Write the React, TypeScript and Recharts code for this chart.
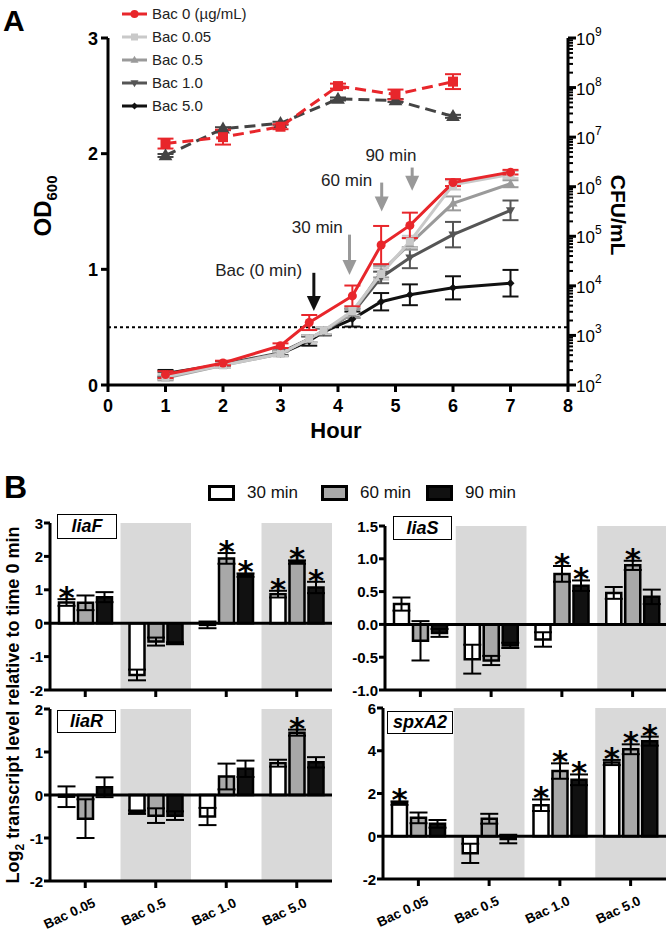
import React from "react";
import {
  LineChart,
  Line,
  XAxis,
  YAxis,
  ErrorBar,
  ReferenceLine,
  ReferenceDot,
  BarChart,
  Bar,
  ReferenceArea,
  LabelList,
} from "recharts";

const FONT = '"Liberation Sans", Arial, Helvetica, sans-serif';

// ---- Panel A: growth (OD600) ----
const hours = [1, 2, 3, 3.5, 3.75, 4.25, 4.75, 5.25, 6, 7];
const bac0Hours = [1, 2, 3, 3.5, 4.25, 4.75, 5.25, 6, 7];
const odBac0 = [0.09, 0.19, 0.34, 0.54, 0.77, 1.21, 1.38, 1.75, 1.84];
const odBac0Err = [0.03, 0.02, 0.02, 0.065, 0.09, 0.165, 0.11, 0.03, 0.02];
const odBac005 = [0.07, 0.17, 0.27, 0.4, 0.47, 0.64, 0.96, 1.24, 1.73, 1.82];
const odBac005Err = [0.02, 0.02, 0.02, 0.03, 0.03, 0.04, 0.05, 0.05, 0.04, 0.03];
const odBac05 = [0.06, 0.17, 0.27, 0.4, 0.47, 0.62, 0.98, 1.22, 1.57, 1.74];
const odBac05Err = [0.02, 0.02, 0.02, 0.03, 0.03, 0.04, 0.05, 0.05, 0.06, 0.03];
const odBac10 = [0.08, 0.18, 0.28, 0.4, 0.46, 0.62, 0.93, 1.1, 1.3, 1.51];
const odBac10Err = [0.03, 0.02, 0.02, 0.03, 0.03, 0.04, 0.05, 0.09, 0.11, 0.085];
const odBac50 = [0.1, 0.18, 0.27, 0.38, 0.46, 0.57, 0.72, 0.78, 0.84, 0.88];
const odBac50Err = [0.03, 0.02, 0.02, 0.04, 0.03, 0.065, 0.075, 0.09, 0.1, 0.115];

// CFU/mL, stored as log10
const cfuHours = [1, 2, 3, 4, 5, 6];
const cfuBac0 = [6.87, 7.0, 7.21, 8.03, 7.86, 8.12];
const cfuBac0Err = [0.1, 0.15, 0.05, 0.05, 0.1, 0.15];
const cfuTreated = [6.63, 7.17, 7.28, 7.77, 7.74, 7.42];
const cfuTreatedErr = [0.03, 0.03, 0.03, 0.03, 0.03, 0.03];
const cfuExponents = [2, 3, 4, 5, 6, 7, 8, 9];

const hourTicks = [0, 1, 2, 3, 4, 5, 6, 7, 8];
const odTicks = [0, 1, 2, 3];

const arrows = [
  { label: "Bac (0 min)", hour: 3.58, from: 0.97, to: 0.64, color: "#111", labelHour: 2.62, labelOd: 0.99 },
  { label: "30 min", hour: 4.2, from: 1.3, to: 0.95, color: "#999", labelHour: 3.64, labelOd: 1.37 },
  { label: "60 min", hour: 4.76, from: 1.75, to: 1.5, color: "#999", labelHour: 4.15, labelOd: 1.77 },
  { label: "90 min", hour: 5.29, from: 1.88, to: 1.68, color: "#999", labelHour: 4.92, labelOd: 1.99 },
];

const odData = hours.map((h, i) => ({
  hour: h,
  bac005: odBac005[i],
  bac005Err: odBac005Err[i],
  bac05: odBac05[i],
  bac05Err: odBac05Err[i],
  bac10: odBac10[i],
  bac10Err: odBac10Err[i],
  bac50: odBac50[i],
  bac50Err: odBac50Err[i],
}));
const bac0Data = bac0Hours.map((h, i) => ({ hour: h, bac0: odBac0[i], bac0Err: odBac0Err[i] }));
const cfuData = cfuHours.map((h, i) => ({
  hour: h,
  cfu0: cfuBac0[i],
  cfu0Err: cfuBac0Err[i],
  cfuT: cfuTreated[i],
  cfuTErr: cfuTreatedErr[i],
}));
const cfuTicks = cfuExponents.flatMap((e) =>
  e === 9 ? [9] : [1, 2, 3, 4, 5, 6, 7, 8, 9].map((k) => e + Math.log10(k))
);

// ---- Panel B: transcript levels ----
const groups = ["Bac 0.05", "Bac 0.5", "Bac 1.0", "Bac 5.0"];

const liaF30 = [0.62, -1.55, -0.05, 0.87];
const liaF60 = [0.61, -0.55, 1.94, 1.83];
const liaF90 = [0.78, -0.6, 1.44, 1.07];
const liaF30Err = [0.1, 0.16, 0.1, 0.1];
const liaF60Err = [0.22, 0.12, 0.16, 0.05];
const liaF90Err = [0.15, 0.03, 0.05, 0.17];
const liaF30Sig = [true, false, false, true];
const liaF60Sig = [false, false, true, true];
const liaF90Sig = [false, false, true, true];

const liaS30 = [0.31, -0.53, -0.23, 0.48];
const liaS60 = [-0.25, -0.55, 0.77, 0.9];
const liaS90 = [-0.13, -0.32, 0.59, 0.42];
const liaS30Err = [0.1, 0.22, 0.11, 0.09];
const liaS60Err = [0.3, 0.07, 0.12, 0.07];
const liaS90Err = [0.06, 0.04, 0.08, 0.11];
const liaS30Sig = [false, false, false, false];
const liaS60Sig = [false, false, true, true];
const liaS90Sig = [false, false, true, false];

const liaR30 = [-0.04, -0.4, -0.5, 0.74];
const liaR60 = [-0.55, -0.48, 0.43, 1.45];
const liaR90 = [0.18, -0.48, 0.61, 0.76];
const liaR30Err = [0.24, 0.04, 0.2, 0.08];
const liaR60Err = [0.45, 0.17, 0.3, 0.07];
const liaR90Err = [0.23, 0.1, 0.19, 0.12];
const liaR30Sig = [false, false, false, false];
const liaR60Sig = [false, false, false, true];
const liaR90Sig = [false, false, false, false];

const spx30 = [1.55, -0.8, 1.45, 3.45];
const spx60 = [0.86, 0.82, 3.05, 4.07];
const spx90 = [0.58, -0.13, 2.64, 4.45];
const spx30Err = [0.08, 0.45, 0.27, 0.12];
const spx60Err = [0.25, 0.23, 0.36, 0.23];
const spx90Err = [0.18, 0.2, 0.25, 0.21];
const spx30Sig = [true, false, true, true];
const spx60Sig = [false, false, true, true];
const spx90Sig = [false, false, true, true];

function rows(m30, m60, m90, e30, e60, e90, s30, s60, s90) {
  return groups.map((g, i) => ({
    group: g,
    m30: m30[i], m60: m60[i], m90: m90[i],
    e30: e30[i], e60: e60[i], e90: e90[i],
    s30: s30[i], s60: s60[i], s90: s90[i],
  }));
}

const liaFData = rows(liaF30, liaF60, liaF90, liaF30Err, liaF60Err, liaF90Err, liaF30Sig, liaF60Sig, liaF90Sig);
const liaSData = rows(liaS30, liaS60, liaS90, liaS30Err, liaS60Err, liaS90Err, liaS30Sig, liaS60Sig, liaS90Sig);
const liaRData = rows(liaR30, liaR60, liaR90, liaR30Err, liaR60Err, liaR90Err, liaR30Sig, liaR60Sig, liaR90Sig);
const spxData = rows(spx30, spx60, spx90, spx30Err, spx60Err, spx90Err, spx30Sig, spx60Sig, spx90Sig);

// ---- markers ----
function marker(kind: string, color: string, s: number, cx: number, cy: number, key?: any) {
  if (cx == null || cy == null) return <g key={key} />;
  if (kind === "circle") return <circle key={key} cx={cx} cy={cy} r={s} fill={color} />;
  if (kind === "square")
    return <rect key={key} x={cx - s} y={cy - s} width={2 * s} height={2 * s} fill={color} />;
  if (kind === "up")
    return (
      <polygon key={key} fill={color}
        points={`${cx},${cy - s * 1.2} ${cx - s * 1.15},${cy + s * 0.8} ${cx + s * 1.15},${cy + s * 0.8}`} />
    );
  if (kind === "down")
    return (
      <polygon key={key} fill={color}
        points={`${cx},${cy + s * 1.2} ${cx - s * 1.15},${cy - s * 0.8} ${cx + s * 1.15},${cy - s * 0.8}`} />
    );
  return (
    <polygon key={key} fill={color}
      points={`${cx},${cy - s} ${cx + s},${cy} ${cx},${cy + s} ${cx - s},${cy}`} />
  );
}
const dotFn = (kind: string, color: string, s: number) => (p: any) => marker(kind, color, s, p.cx, p.cy, p.index);

const legendA = [
  { name: "Bac 0 (µg/mL)", color: "#e8262b", kind: "circle", s: 4 },
  { name: "Bac 0.05", color: "#c9c9c9", kind: "square", s: 3.5 },
  { name: "Bac 0.5", color: "#9a9a9a", kind: "up", s: 3.5 },
  { name: "Bac 1.0", color: "#555", kind: "down", s: 3.5 },
  { name: "Bac 5.0", color: "#111", kind: "diamond", s: 3.5 },
];

// ---- custom ticks (draw their own tick marks) ----
const HourTick = (props: any) => {
  const { x, y, payload } = props;
  return (
    <g>
      <line x1={x} x2={x} y1={y} y2={y + 7} stroke="#000" strokeWidth={3} />
      <text x={x} y={y + 27} textAnchor="middle" fontSize={18} fontWeight="bold" fontFamily={FONT} fill="#000">
        {payload.value}
      </text>
    </g>
  );
};

const OdTick = (props: any) => {
  const { x, y, payload } = props;
  return (
    <g>
      <line x1={x - 7} x2={x} y1={y} y2={y} stroke="#000" strokeWidth={3} />
      <text x={x - 10} y={y + 6.5} textAnchor="end" fontSize={18} fontWeight="bold" fontFamily={FONT} fill="#000">
        {payload.value}
      </text>
    </g>
  );
};

const CfuTick = (props: any) => {
  const { x, y, payload } = props;
  const v = payload.value;
  const major = Math.abs(v - Math.round(v)) < 1e-6;
  return (
    <g>
      <line x1={x} x2={x + (major ? 8 : 5)} y1={y} y2={y} stroke="#000" strokeWidth={major ? 3 : 2} />
      {major && (
        <text x={x + 8} y={y + 7} fontSize={17} fontFamily={FONT} fill="#000">
          10
          <tspan dy={-9} fontSize={12}>{Math.round(v)}</tspan>
        </text>
      )}
    </g>
  );
};

function GrowthPanel() {
  return (
    <div style={{ position: "absolute", left: 0, top: 0 }}>
      <LineChart width={666} height={450} margin={{ top: 38, right: 38, left: 60, bottom: 35 }}>
        <XAxis type="number" dataKey="hour" domain={[0, 8]} ticks={hourTicks} height={30} interval={0}
          axisLine={false} tickLine={false} tickSize={0} tickMargin={0} tick={<HourTick />} allowDuplicatedCategory={false} />
        <YAxis yAxisId="od" domain={[0, 3]} ticks={odTicks} width={48} interval={0}
          axisLine={false} tickLine={false} tickSize={0} tickMargin={0} tick={<OdTick />} />
        <YAxis yAxisId="cfu" orientation="right" domain={[2, 9]} ticks={cfuTicks} width={60} interval={0}
          axisLine={false} tickLine={false} tickSize={0} tickMargin={0} tick={<CfuTick />} />

        <ReferenceLine yAxisId="od" x={0} stroke="#000" strokeWidth={3} />
        <ReferenceLine yAxisId="od" x={8} stroke="#000" strokeWidth={3} />
        <ReferenceLine yAxisId="od" y={0} stroke="#000" strokeWidth={3} />
        <ReferenceLine yAxisId="od" y={0.5} stroke="#000" strokeWidth={2} strokeDasharray="3 3" />

        <Line yAxisId="cfu" data={cfuData} dataKey="cfuT" stroke="#444" strokeWidth={3} strokeDasharray="11 6"
          dot={dotFn("up", "#444", 6)} isAnimationActive={false}>
          <ErrorBar dataKey="cfuTErr" width={8} stroke="#444" strokeWidth={2} direction="y" />
        </Line>
        <Line yAxisId="cfu" data={cfuData} dataKey="cfu0" stroke="#e8262b" strokeWidth={3} strokeDasharray="11 6"
          dot={dotFn("square", "#e8262b", 5)} isAnimationActive={false}>
          <ErrorBar dataKey="cfu0Err" width={8} stroke="#e8262b" strokeWidth={2} direction="y" />
        </Line>

        <Line yAxisId="od" data={odData} dataKey="bac50" stroke="#111" strokeWidth={3}
          dot={dotFn("diamond", "#111", 4)} isAnimationActive={false}>
          <ErrorBar dataKey="bac50Err" width={8} stroke="#111" strokeWidth={2} direction="y" />
        </Line>
        <Line yAxisId="od" data={odData} dataKey="bac10" stroke="#555" strokeWidth={3}
          dot={dotFn("down", "#555", 4)} isAnimationActive={false}>
          <ErrorBar dataKey="bac10Err" width={8} stroke="#555" strokeWidth={2} direction="y" />
        </Line>
        <Line yAxisId="od" data={odData} dataKey="bac05" stroke="#9a9a9a" strokeWidth={3}
          dot={dotFn("up", "#9a9a9a", 4)} isAnimationActive={false}>
          <ErrorBar dataKey="bac05Err" width={8} stroke="#9a9a9a" strokeWidth={2} direction="y" />
        </Line>
        <Line yAxisId="od" data={odData} dataKey="bac005" stroke="#c9c9c9" strokeWidth={3}
          dot={dotFn("square", "#c9c9c9", 4)} isAnimationActive={false}>
          <ErrorBar dataKey="bac005Err" width={8} stroke="#c9c9c9" strokeWidth={2} direction="y" />
        </Line>
        <Line yAxisId="od" data={bac0Data} dataKey="bac0" stroke="#e8262b" strokeWidth={3}
          dot={dotFn("circle", "#e8262b", 4.5)} isAnimationActive={false}>
          <ErrorBar dataKey="bac0Err" width={8} stroke="#e8262b" strokeWidth={2} direction="y" />
        </Line>

        {arrows.map((a) => (
          <ReferenceLine key={a.label + "s"} yAxisId="od" stroke={a.color} strokeWidth={3}
            segment={[{ x: a.hour, y: a.from }, { x: a.hour, y: a.to + 0.05 }]} />
        ))}
        {arrows.map((a) => (
          <ReferenceDot key={a.label + "h"} yAxisId="od" x={a.hour} y={a.to} r={1}
            shape={(p: any) => (
              <polygon fill={a.color} points={`${p.cx - 7},${p.cy - 15} ${p.cx + 7},${p.cy - 15} ${p.cx},${p.cy}`} />
            )} />
        ))}
        {arrows.map((a) => (
          <ReferenceDot key={a.label + "t"} yAxisId="od" x={a.labelHour} y={a.labelOd} r={1}
            shape={(p: any) => (
              <text x={p.cx} y={p.cy + 6} textAnchor="middle" fontSize={17} fontFamily={FONT} fill="#222">
                {a.label}
              </text>
            )} />
        ))}
      </LineChart>
      <div style={{ position: "absolute", left: 121, top: 2 }}>
        {legendA.map((l) => (
          <div key={l.name} style={{ display: "flex", alignItems: "center", height: 23 }}>
            <svg width={28} height={14}>
              <line x1={1} x2={26} y1={7} y2={7} stroke={l.color} strokeWidth={3} />
              {marker(l.kind, l.color, l.s, 13.5, 7)}
            </svg>
            <span style={{ fontSize: 15, color: "#222", marginLeft: 3, fontFamily: FONT }}>{l.name}</span>
          </div>
        ))}
      </div>
    </div>
  );
}

const starContent = (data: any[], errKey: string, sigKey: string) => (props: any) => {
  const vb = props.viewBox || props;
  const idx = props.index;
  const row = data[idx];
  if (!row || !row[sigKey]) return null;
  const x = props.x ?? vb.x;
  const y = props.y ?? vb.y;
  const w = props.width ?? vb.width;
  const h = props.height ?? vb.height;
  const v = props.value;
  const ppu = Math.abs(h / v);
  const top = Math.min(y, y + h) - row[errKey] * ppu;
  return (
    <text x={x + w / 2} y={top + 9} textAnchor="middle" fontSize={31} fontWeight="bold"
      fontFamily="DejaVu Sans, sans-serif" fill="#000">
      *
    </text>
  );
};

const GroupTick = (props: any) => {
  const { x, y, payload, showLabel } = props;
  return (
    <g>
      <line x1={x} x2={x} y1={y} y2={y + 7} stroke="#000" strokeWidth={3} />
      {showLabel && (
        <text x={x + 11} y={y + 25} transform={`rotate(-25 ${x + 11} ${y + 25})`} textAnchor="end"
          fontSize={13.5} fontWeight="bold" fontFamily={FONT} fill="#000">
          {payload.value}
        </text>
      )}
    </g>
  );
};

const ValueTick = (props: any) => {
  const { x, y, payload, fmt } = props;
  const v = payload.value;
  return (
    <g>
      <line x1={x - 6} x2={x} y1={y} y2={y} stroke="#000" strokeWidth={3} />
      <text x={x - 7} y={y + 5.5} textAnchor="end" fontSize={15} fontWeight="bold" fontFamily={FONT} fill="#000">
        {fmt ? fmt(v) : v}
      </text>
    </g>
  );
};

function GeneChart(props: any) {
  const { data, left, top, width, height, margin, yDomain, yTicks, yFmt, xHeight, showGroups } = props;
  const bars = [
    { key: "m30", err: "e30", sig: "s30", fill: "#ffffff" },
    { key: "m60", err: "e60", sig: "s60", fill: "#a8a8a8" },
    { key: "m90", err: "e90", sig: "s90", fill: "#111111" },
  ];
  return (
    <div style={{ position: "absolute", left, top }}>
      <BarChart width={width} height={height} data={data} margin={margin} barSize={15} barGap={4}>
        <ReferenceArea x1="Bac 0.5" x2="Bac 0.5" fill="#d9d9d9" fillOpacity={1} stroke="none" />
        <ReferenceArea x1="Bac 5.0" x2="Bac 5.0" fill="#d9d9d9" fillOpacity={1} stroke="none" />
        <XAxis dataKey="group" height={xHeight} interval={0}
          axisLine={false} tickLine={false} tickSize={0} tickMargin={0}
          tick={<GroupTick showLabel={showGroups} />} />
        <YAxis domain={yDomain} ticks={yTicks} width={40} interval={0} allowDataOverflow
          axisLine={false} tickLine={false} tickSize={0} tickMargin={0} tick={<ValueTick fmt={yFmt} />} />
        <ReferenceLine y={0} stroke="#000" strokeWidth={3} />
        <ReferenceLine y={yDomain[0]} stroke="#000" strokeWidth={3} />
        <ReferenceLine x={groups[0]} position="start" stroke="#000" strokeWidth={3} />
        {bars.map((b) => (
          <Bar key={b.key} dataKey={b.key} fill={b.fill} stroke="#000" strokeWidth={2.5} isAnimationActive={false}>
            <ErrorBar dataKey={b.err} width={9} stroke="#000" strokeWidth={2} direction="y" />
            <LabelList dataKey={b.key} content={starContent(data, b.err, b.sig)} />
          </Bar>
        ))}
      </BarChart>
    </div>
  );
}

const legendB = [
  { name: "30 min", fill: "#ffffff", x: 208 },
  { name: "60 min", fill: "#a8a8a8", x: 321 },
  { name: "90 min", fill: "#111111", x: 426 },
];

const geneBoxes = [
  { name: "liaF", left: 57, top: 514, w: 60, h: 25 },
  { name: "liaS", left: 393, top: 516, w: 59, h: 24 },
  { name: "liaR", left: 57, top: 710, w: 59, h: 23 },
  { name: "spxA2", left: 387, top: 711, w: 66, h: 23 },
];

export default function App() {
  const fixed = (v: number) => v.toFixed(1);
  return (
    <div style={{ position: "absolute", left: 0, top: 0, width: 666, height: 937, overflow: "hidden", background: "#fff", fontFamily: FONT }}>
      <GrowthPanel />

      <GeneChart data={liaFData} left={0} top={510} width={340} height={200}
        margin={{ top: 13, right: 8, left: 10, bottom: 10 }} yDomain={[-2, 3]} yTicks={[-2, -1, 0, 1, 2, 3]}
        xHeight={10} showGroups={false} />
      <GeneChart data={liaSData} left={335} top={510} width={340} height={200}
        margin={{ top: 16, right: 7, left: 10, bottom: 10 }} yDomain={[-1, 1.5]} yTicks={[-1, -0.5, 0, 0.5, 1, 1.5]}
        yFmt={fixed} xHeight={10} showGroups={false} />
      <GeneChart data={liaRData} left={0} top={695} width={340} height={240}
        margin={{ top: 14, right: 8, left: 10, bottom: 4 }} yDomain={[-2, 2]} yTicks={[-2, -1, 0, 1, 2]}
        xHeight={50} showGroups={true} />
      <GeneChart data={spxData} left={333} top={695} width={340} height={240}
        margin={{ top: 13, right: 7, left: 10, bottom: 6 }} yDomain={[-2, 6]} yTicks={[-2, 0, 2, 4, 6]}
        xHeight={50} showGroups={true} />

      {legendB.map((l) => (
        <div key={l.name} style={{ position: "absolute", left: l.x, top: 483, display: "flex", alignItems: "center" }}>
          <div style={{ width: 21, height: 10, border: "3px solid #000", background: l.fill }} />
          <span style={{ fontSize: 17, marginLeft: 12, color: "#111" }}>{l.name}</span>
        </div>
      ))}

      {geneBoxes.map((g) => (
        <div key={g.name} style={{
          position: "absolute", left: g.left, top: g.top, width: g.w, height: g.h, boxSizing: "border-box",
          border: "1.5px solid #000", background: "#fff", display: "flex", alignItems: "center",
          justifyContent: "center", fontStyle: "italic", fontWeight: "bold", fontSize: 18,
        }}>{g.name}</div>
      ))}

      <svg width={666} height={937} style={{ position: "absolute", left: 0, top: 0, pointerEvents: "none" }}>
        <text x={3} y={31} fontSize={30} fontWeight="bold" fontFamily={FONT}>A</text>
        <text x={4} y={498} fontSize={32} fontWeight="bold" fontFamily={FONT}>B</text>
        <text transform="translate(51,206) rotate(-90)" textAnchor="middle" fontSize={24} fontWeight="bold" fontFamily={FONT}>
          OD<tspan fontSize={15} dy={6}>600</tspan>
        </text>
        <text transform="translate(611,215) rotate(90)" textAnchor="middle" fontSize={21} fontWeight="bold" fontFamily={FONT}>
          CFU/mL
        </text>
        <text x={336} y={438} textAnchor="middle" fontSize={22} fontWeight="bold" fontFamily={FONT}>Hour</text>
        <text transform="translate(19,705) rotate(-90)" textAnchor="middle" fontSize={18} fontWeight="bold" fontFamily={FONT}>
          Log<tspan fontSize={12} dy={5}>2</tspan><tspan dy={-5}> transcript level relative to time 0 min</tspan>
        </text>
      </svg>
    </div>
  );
}
